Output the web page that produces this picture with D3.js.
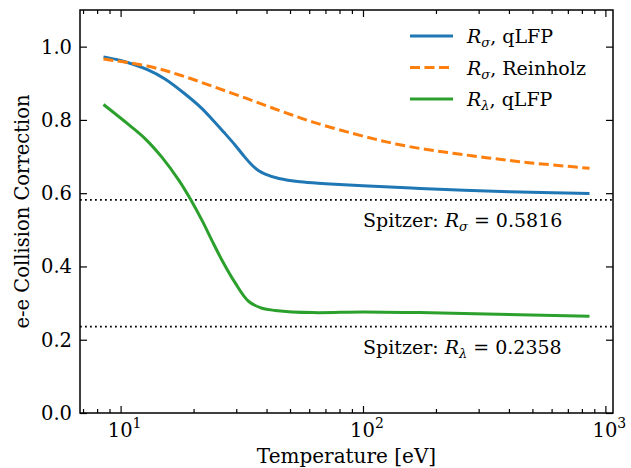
<!DOCTYPE html>
<html>
<head>
<meta charset="utf-8">
<script src="https://cdn.jsdelivr.net/npm/d3@7"></script>
<style>
  body { margin: 0; background: #fff; }
  text { font-family: "DejaVu Serif", serif; fill: #000; }
</style>
</head>
<body>
<svg id="chart" width="631" height="468"></svg>
<script>
// data
const sigmaQlfp = [
  [8.5, 0.972], [10, 0.962], [12.9, 0.937], [15.3, 0.911], [18.5, 0.870],
  [21.5, 0.833], [24, 0.800], [26.7, 0.766], [29.7, 0.731], [32.2, 0.702],
  [34.8, 0.677], [37, 0.662], [39.5, 0.652], [45, 0.640], [55, 0.631],
  [70, 0.626], [100, 0.620], [172, 0.613], [323, 0.606], [607, 0.601], [860, 0.599]
];
const sigmaReinholz = [
  [8.5, 0.966], [12.9, 0.947], [17.65, 0.922], [24.1, 0.891], [33.3, 0.858],
  [45.5, 0.825], [62.2, 0.794], [91, 0.763], [125, 0.740], [172, 0.722],
  [235, 0.709], [323, 0.697], [443, 0.686], [607, 0.677], [860, 0.668]
];
const lambdaQlfp = [
  [8.5, 0.842], [10.8, 0.787], [12.7, 0.747], [14.85, 0.697], [17.4, 0.635],
  [19.4, 0.584], [21.7, 0.525], [23.85, 0.470], [26.2, 0.417], [29.7, 0.355],
  [33.7, 0.305], [38.3, 0.286], [43.4, 0.280], [62, 0.274], [100, 0.276],
  [172, 0.274], [323, 0.270], [860, 0.264]
];
const spitzer = [
  { value: 0.5816, sub: "σ", label: "0.5816" },
  { value: 0.2358, sub: "λ", label: "0.2358" }
];
const yTicks = [0.0, 0.2, 0.4, 0.6, 0.8, 1.0];
const xMajor = [10, 100, 1000];

const series = [
  { data: sigmaQlfp, sub: "σ", name: "qLFP", color: "#1f77b4", dash: null },
  { data: sigmaReinholz, sub: "σ", name: "Reinholz", color: "#ff7f0e", dash: "10,4.5" },
  { data: lambdaQlfp, sub: "λ", name: "qLFP", color: "#2ca02c", dash: null }
];

const margin = { top: 10, right: 18, bottom: 55, left: 80 };
const W = 631, H = 468;
const w = W - margin.left - margin.right;
const h = H - margin.top - margin.bottom;

const svg = d3.select('#chart');
const g = svg.append('g').attr('transform', `translate(${margin.left},${margin.top})`);

const x = d3.scaleLog().domain([6.8, 1075]).range([0, w]);
const y = d3.scaleLinear().domain([0, 1.1]).range([h, 0]);

// minor ticks for the log axis
const xMinor = [];
[1, 10, 100].forEach(dec => {
  for (let k = 2; k <= 9; k++) {
    const v = k * dec;
    if (v >= x.domain()[0] && v <= x.domain()[1]) xMinor.push(v);
  }
});

// dotted Spitzer lines
spitzer.forEach(s => {
  g.append('line')
    .attr('x1', 0).attr('x2', w)
    .attr('y1', y(s.value)).attr('y2', y(s.value))
    .attr('stroke', '#000').attr('stroke-width', 1.8)
    .attr('stroke-dasharray', '1.8,3.2');
  const t = g.append('text')
    .attr('x', x(100))
    .attr('y', y(s.value - 0.075))
    .style('font-size', '19px');
  t.append('tspan').text('Spitzer: ');
  t.append('tspan').style('font-style', 'italic').text('R');
  t.append('tspan').attr('dy', 4).style('font-size', '13px').style('font-style', 'italic').text(s.sub);
  t.append('tspan').attr('dy', -4).text(' = ' + s.label);
});

// curves
const line = d3.line()
  .x(d => x(d[0]))
  .y(d => y(d[1]))
  .curve(d3.curveCatmullRom.alpha(0.5));

series.forEach(s => {
  g.append('path')
    .datum(s.data)
    .attr('fill', 'none')
    .attr('stroke', s.color)
    .attr('stroke-width', 3)
    .attr('stroke-dasharray', s.dash)
    .attr('d', line);
});

// axes, ticks inward on all sides
const xAxisB = d3.axisBottom(x).tickValues(xMajor).tickSize(-7).tickFormat('').tickSizeOuter(0);
const xMinorB = d3.axisBottom(x).tickValues(xMinor).tickSize(-4).tickFormat('').tickSizeOuter(0);
const xAxisT = d3.axisTop(x).tickValues(xMajor).tickSize(-7).tickFormat('').tickSizeOuter(0);
const xMinorT = d3.axisTop(x).tickValues(xMinor).tickSize(-4).tickFormat('').tickSizeOuter(0);
const yAxisL = d3.axisLeft(y).tickValues(yTicks).tickSize(-7).tickFormat('').tickSizeOuter(0);
const yAxisR = d3.axisRight(y).tickValues(yTicks).tickSize(-7).tickFormat('').tickSizeOuter(0);

function styleAxis(sel) {
  sel.select('.domain').remove();
  sel.selectAll('line').attr('stroke', '#000').attr('stroke-width', 1.2);
}
g.append('g').attr('transform', `translate(0,${h})`).call(xAxisB).call(styleAxis);
g.append('g').attr('transform', `translate(0,${h})`).call(xMinorB).call(styleAxis);
g.append('g').call(xAxisT).call(styleAxis);
g.append('g').call(xMinorT).call(styleAxis);
g.append('g').call(yAxisL).call(styleAxis);
g.append('g').attr('transform', `translate(${w},0)`).call(yAxisR).call(styleAxis);

g.append('rect')
  .attr('width', w).attr('height', h)
  .attr('fill', 'none').attr('stroke', '#000').attr('stroke-width', 1.5);

// tick labels
yTicks.forEach(v => {
  g.append('text')
    .attr('x', -8).attr('y', y(v)).attr('dy', '0.36em')
    .attr('text-anchor', 'end')
    .style('font-size', '19.5px')
    .text(v.toFixed(1));
});
xMajor.forEach(v => {
  const t = g.append('text')
    .attr('x', x(v) + 4).attr('y', h + 24)
    .attr('text-anchor', 'middle')
    .style('font-size', '19.5px');
  t.append('tspan').text('10');
  t.append('tspan').attr('dy', -9).style('font-size', '14px').text(Math.round(Math.log10(v)));
});

// axis titles
svg.append('text')
  .attr('x', margin.left + w / 2).attr('y', 463)
  .attr('text-anchor', 'middle')
  .style('font-size', '20px')
  .text('Temperature [eV]');
svg.append('text')
  .attr('transform', `translate(29,${margin.top + h / 2}) rotate(-90)`)
  .attr('text-anchor', 'middle')
  .style('font-size', '19.5px')
  .text('e-e Collision Correction');

// legend
const leg = g.append('g').attr('transform', 'translate(330,26)');
series.forEach((s, i) => {
  const row = leg.append('g').attr('transform', `translate(0,${i * 31.5})`);
  row.append('line')
    .attr('x1', 0).attr('x2', 43)
    .attr('stroke', s.color).attr('stroke-width', 3)
    .attr('stroke-dasharray', s.dash);
  const t = row.append('text').attr('x', 57).attr('y', 7).style('font-size', '19px');
  t.append('tspan').style('font-style', 'italic').text('R');
  t.append('tspan').attr('dy', 4).style('font-size', '13px').style('font-style', 'italic').text(s.sub);
  t.append('tspan').attr('dy', -4).text(', ' + s.name);
});
</script>
</body>
</html>
